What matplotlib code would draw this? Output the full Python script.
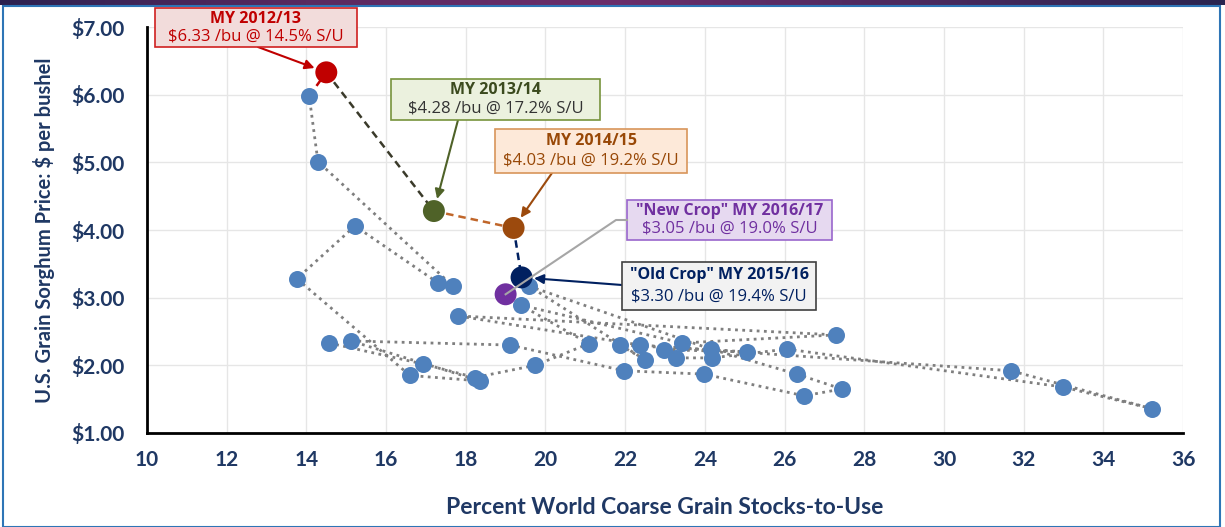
import matplotlib.pyplot as plt
import matplotlib.patches as mpatches
import numpy as np

# Historical path (chronological) of world coarse grain S/U (%) vs sorghum price ($/bu)
stocks_to_use = [14.57, 16.93, 18.23, 19.74, 21.09, 19.38, 23.43, 27.29, 17.80, 22.37,
                 31.68, 35.22, 32.99, 26.06, 24.18, 23.27, 22.97, 25.06, 21.87, 22.50,
                 19.59, 24.15, 26.31, 27.44, 26.49, 23.98, 21.97, 19.11, 15.12, 18.36,
                 16.60, 13.76, 15.22, 17.30, 17.68, 14.29, 14.07]
price = [2.33, 2.02, 1.82, 2.00, 2.32, 2.89, 2.33, 2.45, 2.73, 2.30,
         1.92, 1.36, 1.68, 2.24, 2.11, 2.11, 2.23, 2.20, 2.30, 2.08,
         3.17, 2.24, 1.87, 1.65, 1.55, 1.87, 1.92, 2.30, 2.36, 1.77,
         1.85, 3.28, 4.06, 3.22, 3.17, 5.01, 5.98]

# Highlighted marketing years
hl_years = ["MY 2012/13", "MY 2013/14", "MY 2014/15", "\"Old Crop\" MY 2015/16", "\"New Crop\" MY 2016/17"]
hl_su = [14.5, 17.2, 19.2, 19.4, 19.0]
hl_price = [6.33, 4.28, 4.03, 3.30, 3.05]
hl_colors = ["#C00000", "#4F6228", "#9C4A0D", "#002060", "#7030A0"]

x_ticks = list(range(10, 37, 2))
y_ticks = [1, 2, 3, 4, 5, 6, 7]

W, H = 1225, 527
NAVY = "#1F3864"


def fig_xy(px, py):
    return px / W, 1 - py / H


fig = plt.figure(figsize=(W / 100, H / 100), dpi=100, facecolor="white")

# top gradient bar
bar = fig.add_axes([0, 1 - 5 / H, 1, 5 / H])
grad = np.linspace(0, 1, 256)
cmap = plt.matplotlib.colors.LinearSegmentedColormap.from_list(
    "bar", ["#2B2150", "#5A2A60", "#6B2E6A", "#4A2A5E", "#2A2450"])
bar.imshow(grad[None, :], aspect="auto", cmap=cmap)
bar.axis("off")

# outer blue frame
fig.add_artist(mpatches.Rectangle((3 / W, 0.0), 1217 / W, 1 - 6 / H, transform=fig.transFigure,
                                  fill=False, edgecolor="#2E75B6", linewidth=1.5))

ax = fig.add_axes([147 / W, 1 - 433 / H, (1183 - 147) / W, (433 - 27) / H])
ax.set_xlim(10, 36)
ax.set_ylim(1, 7)
ax.set_xticks(x_ticks)
ax.set_yticks(y_ticks)
ax.set_xticklabels([str(v) for v in x_ticks])
ax.set_yticklabels([f"${v:.2f}" for v in y_ticks])
ax.grid(True, color="#E6E6E6", linewidth=1)
ax.set_axisbelow(True)
for s in ["top", "right"]:
    ax.spines[s].set_visible(False)
for s in ["left", "bottom"]:
    ax.spines[s].set_linewidth(2)
    ax.spines[s].set_color("black")
ax.tick_params(length=0, labelsize=15, labelcolor=NAVY)
ax.tick_params(axis="x", pad=12)
ax.tick_params(axis="y", pad=16)
for lab in ax.get_xticklabels() + ax.get_yticklabels():
    lab.set_fontfamily("Lato")
    lab.set_fontweight("bold")

ax.set_xlabel("Percent World Coarse Grain Stocks-to-Use", fontsize=16.5, fontweight="bold",
              color=NAVY, family="Lato", labelpad=20)
ax.set_ylabel("U.S. Grain Sorghum Price: $ per bushel", fontsize=14.5, fontweight="bold",
              color=NAVY, family="Lato", labelpad=12)

# history path
ax.plot(stocks_to_use, price, color="#7F7F7F", linewidth=2, linestyle=(0, (1, 1.6)), zorder=2)
ax.scatter(stocks_to_use, price, s=150, color="#4F81BD", zorder=3, linewidths=0)

# links between recent years
link_styles = ["#C00000", "#3A3A2A", "#C0662A", "#002060"]
xs = [stocks_to_use[-1]] + hl_su[:4]
ys = [price[-1]] + hl_price[:4]
for i, c in enumerate(link_styles):
    ax.plot(xs[i:i + 2], ys[i:i + 2], color=c, linewidth=1.8, linestyle=(0, (3, 2)), zorder=2)

ax.scatter(hl_su, hl_price, s=250, color=hl_colors, zorder=4, linewidths=0)

# annotation boxes: (x0, y0, x1, y1) in pixels, face, edge, title color, line color
boxes = [
    ((155, 8, 357, 47), "#F2DCDB", "#D02020", "#C00000", "#C00000"),
    ((391, 79, 600, 120), "#EBF1DE", "#77933C", "#3B4A1E", "#333333"),
    ((495, 129, 687, 173), "#FDE9D9", "#D8955A", "#984807", "#984807"),
    ((622, 262, 816, 310), "#F2F2F2", "#404040", "#002060", "#002060"),
    ((627, 200, 832, 240), "#E6D9F0", "#9966CC", "#7030A0", "#7030A0"),
]
for (bx, face, edge, tc, lc), year, su, pr in zip(boxes, hl_years, hl_su, hl_price):
    x0, y0, x1, y1 = bx
    fx0, fy1 = fig_xy(x0, y1)
    fig.add_artist(mpatches.Rectangle((fx0, fy1), (x1 - x0) / W, (y1 - y0) / H,
                                      transform=fig.transFigure, facecolor=face,
                                      edgecolor=edge, linewidth=1.2, zorder=5))
    cx = (x0 + x1) / 2
    h = y1 - y0
    fig.text(*fig_xy(cx, y0 + h * 0.28), year, ha="center", va="center", fontsize=11.5,
             fontweight="bold", color=tc, family="Open Sans", zorder=6)
    fig.text(*fig_xy(cx, y0 + h * 0.72), f"${pr:.2f} /bu @ {su:.1f}% S/U", ha="center",
             va="center", fontsize=12, color=lc, family="Open Sans", zorder=6)

# arrows from boxes to points
arrow_starts = [(258, 47), (458, 120), (552, 173), (622, 285)]
arrow_colors = ["#C00000", "#4F6228", "#9C4A0D", "#002060"]
for (px, py), c, su, pr in zip(arrow_starts, arrow_colors, hl_su, hl_price):
    ax.annotate("", xy=(su, pr), xytext=fig_xy(px, py), textcoords="figure fraction",
                arrowprops=dict(arrowstyle="-|>", color=c, lw=1.5, mutation_scale=14,
                                shrinkA=0, shrinkB=9), zorder=6)

# gray connector for new crop: short horizontal stub, then straight to the point
fig.canvas.draw()
end_px = ax.transData.transform((hl_su[4], hl_price[4]))
end_fig = fig.transFigure.inverted().transform(end_px)
p0 = fig_xy(627, 220)
p1 = fig_xy(616, 220)
fig.add_artist(plt.Line2D([p0[0], p1[0], end_fig[0]], [p0[1], p1[1], end_fig[1]],
                          transform=fig.transFigure, color="#A6A6A6", linewidth=1.5, zorder=6))

fig.savefig("out.png", dpi=100, facecolor="white")
